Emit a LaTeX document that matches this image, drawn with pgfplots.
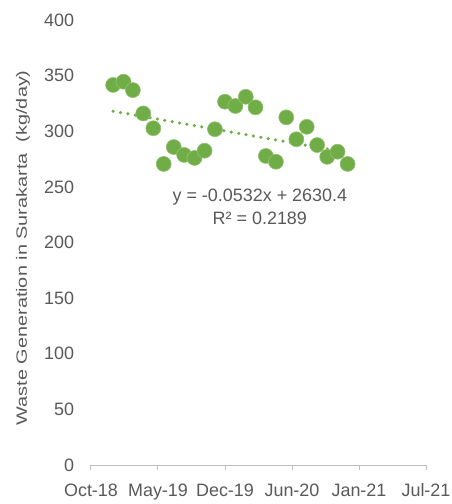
\documentclass[border=0pt]{standalone}
\usepackage{pgfplots}
\pgfplotsset{compat=1.18}
\usepackage{fontspec}
\setmainfont{Liberation Sans}
\definecolor{ptgreen}{HTML}{70AD47}
\definecolor{txtgray}{HTML}{595959}
\definecolor{axgray}{HTML}{BFBFBF}
\begin{document}
\begin{tikzpicture}
\begin{axis}[
  scale only axis,
  width=335bp, height=445bp,
  xmin=43400, xmax=44400,
  ymin=0, ymax=400,
  scaled x ticks=false, scaled y ticks=false,
  axis x line=bottom, axis y line=left,
  x axis line style={draw=axgray, line width=1bp, -},
  y axis line style={draw=none},
  xtick={43400,43600,43800,44000,44200,44400},
  xticklabels={Oct-18,May-19,Dec-19,Jun-20,Jan-21,Jul-21},
  ytick={0,50,...,400},
  xtick style={draw=axgray, line width=1bp},
  xtick align=outside,
  major tick length=5bp,
  ytick style={draw=none},
  tick label style={font=\fontsize{18}{21}\selectfont, text=txtgray},
  /pgf/number format/assume math mode=true,
  yticklabel style={xshift=-11bp},
  xticklabel style={yshift=-10bp},
  ylabel={\scalebox{1.33}[1]{Waste Generation in Surakarta\ \ (kg/day)}},
  every axis y label/.style={at={(rel axis cs:-0.203,0.488)}, rotate=90, anchor=center, font=\fontsize{15}{18}\selectfont, text=txtgray},
  clip=false,
]
\addplot[only marks, mark=*, mark size=7.5bp, mark options={fill=ptgreen, draw=ptgreen!75!white, line width=0.6bp}] coordinates {
(43466,341.6) (43497,344.5) (43525,337) (43556,316) (43586,302.7) (43617,270.6)
(43647,285.8) (43678,278.7) (43709,276) (43739,282.5) (43770,301.8) (43800,326.6)
(43831,322.7) (43862,331) (43891,321.5) (43922,277.8) (43952,272.6) (43983,312.5)
(44013,292.8) (44044,304) (44075,287.6) (44105,277) (44136,281.6) (44166,270.6)
};
\addplot[ptgreen, line width=3.5bp, line cap=round, dash pattern=on 0bp off 7.5bp] coordinates {(43466,318.0) (44166,280.8)};
\node[text=txtgray, font=\fontsize{18}{23.5}\selectfont, align=center] at (axis cs:43904,232) {y = -0.0532x + 2630.4\\R² = 0.2189};
\end{axis}
\pgfresetboundingbox
\path (-91bp,-39bp) rectangle (361bp,465bp);
\end{tikzpicture}
\end{document}
